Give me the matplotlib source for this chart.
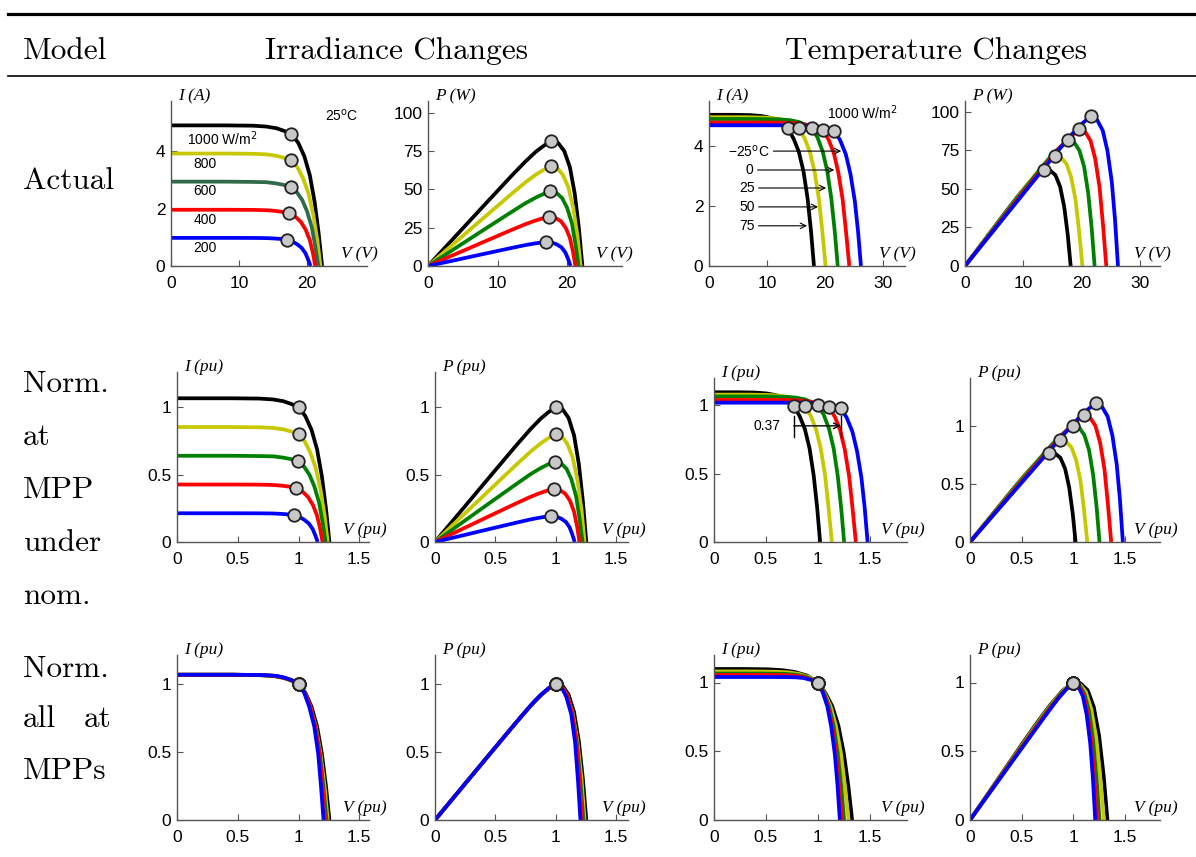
import matplotlib
matplotlib.use('Agg')
import matplotlib.pyplot as plt
import numpy as np
from matplotlib.lines import Line2D

# ---- data ----
# irradiance changes at 25 C: 1000, 800, 600, 400, 200 W/m2
irr_labels = ['1000 W/m$^2$', '800', '600', '400', '200']
irr_v = [
    [0, 8, 12, 14, 15.5, 16.6, 17.7, 18.7, 19.6, 20.4, 21.1, 21.7, 22.2],
    [0, 8, 12, 14, 15.5, 16.6, 17.7, 18.6, 19.4, 20.2, 20.9, 21.5, 21.95],
    [0, 8, 12, 14, 15.4, 16.5, 17.6, 18.5, 19.3, 20.0, 20.7, 21.2, 21.65],
    [0, 8, 12, 14, 15.3, 16.4, 17.4, 18.3, 19.1, 19.8, 20.4, 20.85, 21.2],
    [0, 8, 12, 14, 15.1, 16.1, 17.0, 17.8, 18.5, 19.2, 19.75, 20.15, 20.5],
]
irr_i = [
    [4.90, 4.90, 4.89, 4.86, 4.80, 4.71, 4.60, 4.29, 3.82, 3.16, 2.24, 1.13, 0],
    [3.92, 3.92, 3.91, 3.89, 3.84, 3.77, 3.68, 3.43, 3.06, 2.53, 1.79, 0.90, 0],
    [2.94, 2.94, 2.93, 2.92, 2.88, 2.83, 2.76, 2.57, 2.29, 1.90, 1.34, 0.68, 0],
    [1.96, 1.96, 1.956, 1.944, 1.92, 1.885, 1.84, 1.715, 1.53, 1.26, 0.90, 0.45, 0],
    [0.98, 0.98, 0.978, 0.972, 0.96, 0.943, 0.92, 0.858, 0.764, 0.632, 0.448, 0.225, 0],
]
irr_vmpp = [17.7, 17.7, 17.6, 17.4, 17.0]
irr_impp = [4.60, 3.68, 2.76, 1.84, 0.92]

# temperature changes at 1000 W/m2: 75, 50, 25, 0, -25 C
temp_labels = ['75', '50', '25', '0', '\u221225$^{\\rm o}$C']
temp_v = [
    [0, 4, 7, 9, 10.6, 12.2, 13.6, 14.6, 15.5, 16.3, 17.0, 17.6, 18.1],
    [0, 6, 9, 11, 12.6, 14.1, 15.5, 16.5, 17.4, 18.2, 18.95, 19.55, 20.1],
    irr_v[0],
    [0, 10, 13, 15, 16.6, 18.1, 19.6, 20.6, 21.5, 22.3, 23.05, 23.65, 24.2],
    [0, 12, 15, 17, 18.5, 20.1, 21.6, 22.6, 23.6, 24.4, 25.15, 25.7, 26.2],
]
temp_i = [
    [5.04, 5.04, 5.03, 5.00, 4.94, 4.82, 4.59, 4.24, 3.80, 3.15, 2.25, 1.15, 0],
    [4.96, 4.96, 4.95, 4.93, 4.88, 4.78, 4.59, 4.25, 3.80, 3.15, 2.24, 1.14, 0],
    irr_i[0],
    [4.78, 4.78, 4.775, 4.76, 4.72, 4.64, 4.53, 4.22, 3.78, 3.12, 2.21, 1.10, 0],
    [4.69, 4.69, 4.688, 4.68, 4.66, 4.60, 4.51, 4.20, 3.72, 3.06, 2.16, 1.16, 0],
]
temp_vmpp = [13.6, 15.5, 17.7, 19.6, 21.6]
temp_impp = [4.59, 4.59, 4.60, 4.53, 4.51]

colors = ['black', '#c8c800', '#008000', '#ff0000', '#0000ff']
row_titles = [['Actual'], ['Norm.', 'at', 'MPP', 'under', 'nom.'], ['Norm.', 'all', 'MPPs']]

# nominal point = 1000 W/m2, 25 C
v_nom, i_nom = irr_vmpp[0], irr_impp[0]

W, H = 1196, 857
fig = plt.figure(figsize=(W / 100, H / 100), dpi=100)

TICK_FONT = dict(family='Liberation Sans', size=12.5)
LAB_FONT = dict(family='Liberation Serif', style='italic', size=12.5)
CM = dict(family='cmr10', size=22.5)
SPINE = '#555555'


def make_ax(x0, x1, ytop, ybot, xlim, ylim, xticks, yticks, xlab, ylab):
    ax = fig.add_axes([x0 / W, 1 - ybot / H, (x1 - x0) / W, (ybot - ytop) / H])
    ax.set_xlim(xlim)
    ax.set_ylim(ylim)
    for s in ['top', 'right']:
        ax.spines[s].set_visible(False)
    for s in ['left', 'bottom']:
        ax.spines[s].set_color(SPINE)
        ax.spines[s].set_linewidth(1.0)
    ax.set_xticks(xticks, ['%g' % t for t in xticks])
    ax.set_yticks(yticks, ['%g' % t for t in yticks])
    ax.tick_params(direction='in', length=4, width=0.8, color=SPINE)
    ax.tick_params(axis='x', pad=7)
    ax.tick_params(axis='y', pad=4)
    for lab in ax.get_xticklabels() + ax.get_yticklabels():
        lab.set_fontfamily(TICK_FONT['family'])
        lab.set_fontsize(TICK_FONT['size'])
    w = x1 - x0
    h = ybot - ytop
    ax.text(1 - 26 / w, 8 / h, xlab, transform=ax.transAxes, ha='left',
            va='baseline', clip_on=False, **LAB_FONT)
    ax.text(7 / w, 1 + 1 / h, ylab, transform=ax.transAxes, ha='left',
            va='baseline', clip_on=False, **LAB_FONT)
    return ax


def draw(ax, vs, ys, mv, my, cols, lw=2.7):
    for v, y, c in zip(vs, ys, cols):
        ax.plot(v, y, color=c, lw=lw, solid_capstyle='butt', zorder=2)
    ax.plot(mv, my, 'o', ms=9, mfc='#c8c8c8', mec='#222222', mew=1.3, zorder=5,
            clip_on=False)


rows_px = [(101, 266), (372, 542), (655, 820)]

# per-row scaling: 0 = actual, 1 = nominal MPP, 2 = own MPP
for r in range(3):
    for grp in range(2):
        if grp == 0:
            vv, ii, vm, im = irr_v, irr_i, irr_vmpp, irr_impp
        else:
            vv, ii, vm, im = temp_v, temp_i, temp_vmpp, temp_impp
        vv = [np.array(v, float) for v in vv]
        ii = [np.array(i, float) for i in ii]
        vm = np.array(vm, float)
        im = np.array(im, float)
        if r == 0:
            vs, iss = vv, ii
            mv, mi = vm, im
        elif r == 1:
            vs = [v / v_nom for v in vv]
            iss = [i / i_nom for i in ii]
            mv, mi = vm / v_nom, im / i_nom
        else:
            vs = [v / a for v, a in zip(vv, vm)]
            iss = [i / b for i, b in zip(ii, im)]
            mv, mi = np.ones(5), np.ones(5)
        ps = [v * i for v, i in zip(vs, iss)]
        mp = mv * mi

        top, bot = rows_px[r]
        if r == 0:
            if grp == 0:
                specs = [(171, 367, (0, 28.8), (0, 5.75), [0, 10, 20], [0, 2, 4], 'V (V)', 'I (A)'),
                         (428, 622, (0, 27.9), (0, 107.5), [0, 10, 20], [0, 25, 50, 75, 100], 'V (V)', 'P (W)')]
            else:
                specs = [(709, 905, (0, 33.8), (0, 5.5), [0, 10, 20, 30], [0, 2, 4], 'V (V)', 'I (A)'),
                         (965, 1160, (0, 33.4), (0, 107), [0, 10, 20, 30], [0, 25, 50, 75, 100], 'V (V)', 'P (W)')]
        else:
            xt = [0, 0.5, 1, 1.5]
            yt = [0, 0.5, 1]
            if grp == 0:
                yl = (0, 1.26) if r == 1 else (0, 1.21)
                specs = [(177, 369, (0, 1.58), yl, xt, yt, 'V (pu)', 'I (pu)'),
                         (435, 628, (0, 1.6), yl, xt, yt, 'V (pu)', 'P (pu)')]
            else:
                yl1 = (0, 1.2)
                yl2 = (0, 1.41) if r == 1 else (0, 1.2)
                specs = [(714, 907, (0, 1.86), yl1, xt, yt, 'V (pu)', 'I (pu)'),
                         (970, 1160, (0, 1.84), yl2, xt, yt, 'V (pu)', 'P (pu)')]
        for k, sp in enumerate(specs):
            x0, x1, xl, yl, xt_, yt_, xlab, ylab = sp
            t = top
            if r == 1 and grp == 1:
                t = 378
            ax = make_ax(x0, x1, t, bot, xl, yl, xt_, yt_, xlab, ylab)
            c = list(colors)
            if r == 0 and grp == 0 and k == 0:
                c[2] = '#2f6b4a'
            if k == 0:
                draw(ax, vs, iss, mv, mi, c)
            else:
                draw(ax, vs, ps, mv, mp, c)

            # annotations
            if r == 0 and grp == 0 and k == 0:
                ax.text(2.3, 4.45, irr_labels[0], ha='left', va='center',
                        family='Liberation Sans', size=10)
                for lab, yy in zip(irr_labels[1:], [3.55, 2.6, 1.6, 0.62]):
                    ax.text(3.3, yy, lab, ha='left', va='center',
                            family='Liberation Sans', size=10)
                ax.text(22.7, 5.25, '25$^{\\rm o}$C', ha='left', va='center',
                        family='Liberation Sans', size=10)
            if r == 0 and grp == 1 and k == 0:
                ax.text(20.4, 5.12, '1000 W/m$^2$', ha='left', va='center',
                        family='Liberation Sans', size=10)
                tx = [6.5, 6.5, 6.5, 7.0, 6.8]
                ty = [1.34, 1.97, 2.6, 3.2, 3.83]
                hx = [16.9, 18.8, 20.2, 21.6, 22.8]
                for lab, a, b, h in zip(temp_labels, tx, ty, hx):
                    ax.annotate(lab, xy=(h, b), xytext=(a, b), ha='center', va='center',
                                family='Liberation Sans', size=10,
                                arrowprops=dict(arrowstyle='->', lw=0.8, color='black',
                                                shrinkA=1, shrinkB=0))
            if r == 1 and grp == 1 and k == 0:
                xa, xb = mv[0], mv[4]
                ax.plot([xa, xa], [0.77, 0.92], color='black', lw=1.0, zorder=6)
                ax.plot([xb, xb], [0.77, 0.92], color='black', lw=1.0, zorder=6)
                ax.annotate('', xy=(xb, 0.85), xytext=(xa, 0.85),
                            arrowprops=dict(arrowstyle='->', lw=1.0, color='black',
                                            shrinkA=0, shrinkB=0), zorder=6)
                ax.text(0.51, 0.85, '0.37', ha='center', va='center',
                        family='Liberation Sans', size=10)

# ---- table frame and text ----
for y, lw in [(14, 2.3), (76, 1.2)]:
    fig.add_artist(Line2D([8 / W, 1], [1 - y / H, 1 - y / H], transform=fig.transFigure,
                          color='black', lw=lw))

fig.text(23 / W, 1 - 59 / H, 'Model', ha='left', va='baseline', **CM)
fig.text(265 / W, 1 - 59 / H, 'Irradiance Changes', ha='left', va='baseline', **CM)
fig.text(785 / W, 1 - 59 / H, 'Temperature Changes', ha='left', va='baseline', **CM)

baselines = [[189], [392, 445, 498, 551, 604], [677, 727, 779]]
for words, bls in zip(row_titles, baselines):
    for w, b in zip(words, bls):
        fig.text(23 / W, 1 - b / H, w, ha='left', va='baseline', **CM)
fig.text(112 / W, 1 - 727 / H, 'at', ha='right', va='baseline', **CM)

fig.savefig('out.png', dpi=100)
